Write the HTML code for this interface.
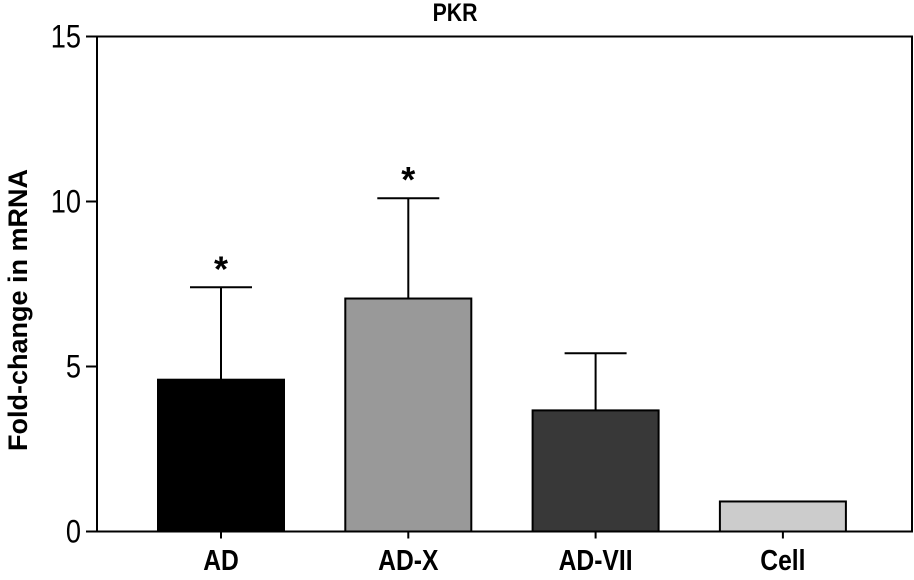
<!DOCTYPE html>
<html><head><meta charset="utf-8"><style>
body{margin:0;background:#fff}
svg text{font-family:"Liberation Sans Narrow","Liberation Sans",sans-serif}
</style></head><body>
<svg id="chart" width="914" height="575" viewBox="0 0 914 575" xmlns="http://www.w3.org/2000/svg">
<text x="0" y="21" text-anchor="middle" font-size="25" font-weight="bold" transform="translate(455,0) scale(0.85,1)">PKR</text>
<text transform="translate(27,310) rotate(-90)" text-anchor="middle" font-size="27" font-weight="bold">Fold-change in mRNA</text>
<rect x="97" y="36.5" width="815" height="495" fill="none" stroke="#000" stroke-width="2"/>
</svg>
<script>
const categories = ["AD","AD-X","AD-VII","Cell"];
const means = [4.6, 7.06, 3.67, 0.91];
const errors = [2.8, 3.04, 1.73, 0];
const significant = [true, true, false, false];
const colors = ["#000000","#999999","#383838","#cccccc"];
const yTicks = [0,5,10,15];

const svg = document.getElementById('chart');
const NS = 'http://www.w3.org/2000/svg';
const y0 = 531.5, yTop = 36.5, yMax = 15;
function yScale(v){ return y0 - (v / yMax) * (y0 - yTop); }
function xCenter(i){ return 221 + i * 187.3; }
const barW = 126;
function mk(tag, attrs){ const e = document.createElementNS(NS, tag); for (const k in attrs) e.setAttribute(k, attrs[k]); svg.appendChild(e); return e; }
function narrow(el, x, s){ el.setAttribute('transform', 'translate(' + x + ',0) scale(' + s + ',1) translate(' + (-x) + ',0)'); }

yTicks.forEach(t => {
  const y = yScale(t);
  const ln = mk('line', {x1: 86, x2: 97, y1: y, y2: y, stroke: '#000', 'stroke-width': 2});
  
  
  const tx = mk('text', {x: 81, y: y + 11, 'text-anchor': 'end', 'font-size': 32});
  tx.textContent = t;
  narrow(tx, 81, 0.85);
  
  
});

categories.forEach((c, i) => {
  const cx = xCenter(i);
  const top = yScale(means[i]);
  if (errors[i] > 0) {
    const et = yScale(means[i] + errors[i]);
    const el = mk('line', {x1: cx, x2: cx, y1: top, y2: et, stroke: '#000', 'stroke-width': 2});
    
    
    const cap = mk('line', {x1: cx - 31, x2: cx + 31, y1: et, y2: et, stroke: '#000', 'stroke-width': 2});
    
    
    if (significant[i]) {
      const s = mk('text', {x: cx, y: et - 6, 'text-anchor': 'middle', 'font-size': 36, 'font-weight': 'bold'});
      s.textContent = '*';
      
      
    }
  }
  const r = mk('rect', {x: cx - barW/2, y: top, width: barW, height: y0 - top, fill: colors[i], stroke: '#000', 'stroke-width': 2});
  
  
  const tk = mk('line', {x1: cx, x2: cx, y1: y0, y2: y0 + 7, stroke: '#000', 'stroke-width': 2});
  
  
  const lb = mk('text', {x: cx, y: 570, 'text-anchor': 'middle', 'font-size': 29, 'font-weight': 'bold'});
  lb.textContent = c;
  narrow(lb, cx, 0.85);
  
  
});
</script>
</body></html>
